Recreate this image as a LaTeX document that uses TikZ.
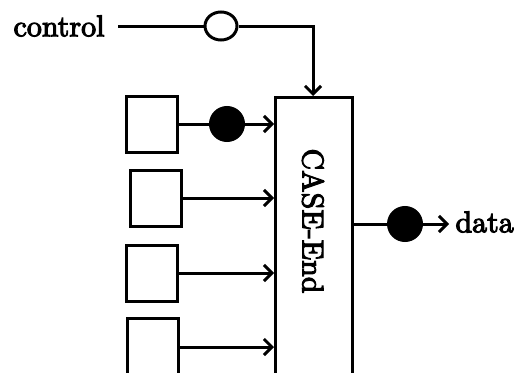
\documentclass[tikz,border=0pt]{standalone}
\usepackage{fontspec}
\newfontfamily\lblfont{lmroman10-regular.otf}[FakeBold=3.5]
\usetikzlibrary{arrows.meta,shapes.geometric}
\begin{document}
\begin{tikzpicture}[x=1pt,y=-1pt,
  line width=3pt,
  txt/.style={font=\lblfont\fontsize{30}{32}\selectfont, inner sep=0pt},
  src/.style={draw, minimum width=51pt, minimum height=56pt, inner sep=0pt},
  dot/.style={circle, fill=black, draw=black, minimum size=33pt, inner sep=0pt},
  ring/.style={ellipse, draw=black, fill=white, minimum width=32pt, minimum height=28pt, inner sep=0pt},
  flow/.style={-{Straight Barb[length=8pt,width=16pt,line width=3pt]}}]
\useasboundingbox (0,0) rectangle (521,372);
\clip (0,0) rectangle (521,372);

% text labels
\node[txt, anchor=east] (ctl) at (106,26) {control};
\node[txt, anchor=west] (dat) at (454,222) {data};

% main block
\node[draw, minimum width=77pt, minimum height=290pt, inner sep=0pt, anchor=north west] (case) at (274,96) {};
\node[txt, rotate=-90] (lbl) at (313,221) {CASE-End};

% source boxes
\node[src] (b1) at (152,124) {};
\node[src] (b2) at (155.5,198) {};
\node[src] (b3) at (152,273) {};
\node[src, minimum height=58pt] (b4) at (152.5,347) {};

% control path
\node[ring] (r) at (221,26) {};
\coordinate (c0) at (118,26);
\coordinate (c1) at (313,26);
\draw (c0) -- (r.west);
\draw[flow] (r.east) -- (c1) -- (c1 |- case.north);

% inputs
\node[dot] (d1) at (227,124) {};
\draw (b1.east) -- (d1.west);
\draw[flow] (d1.east) -- (d1.east -| case.west);
\draw[flow] (b2.east) -- (b2.east -| case.west);
\draw[flow] (b3.east) -- (b3.east -| case.west);
\draw[flow] (b4.east) -- (b4.east -| case.west);

% output
\node[dot] (d2) at (405,224) {};
\coordinate (o1) at (449,224);
\draw (d2.west -| case.east) -- (d2.west);
\draw[flow] (d2.east) -- (o1);
\end{tikzpicture}
\end{document}
